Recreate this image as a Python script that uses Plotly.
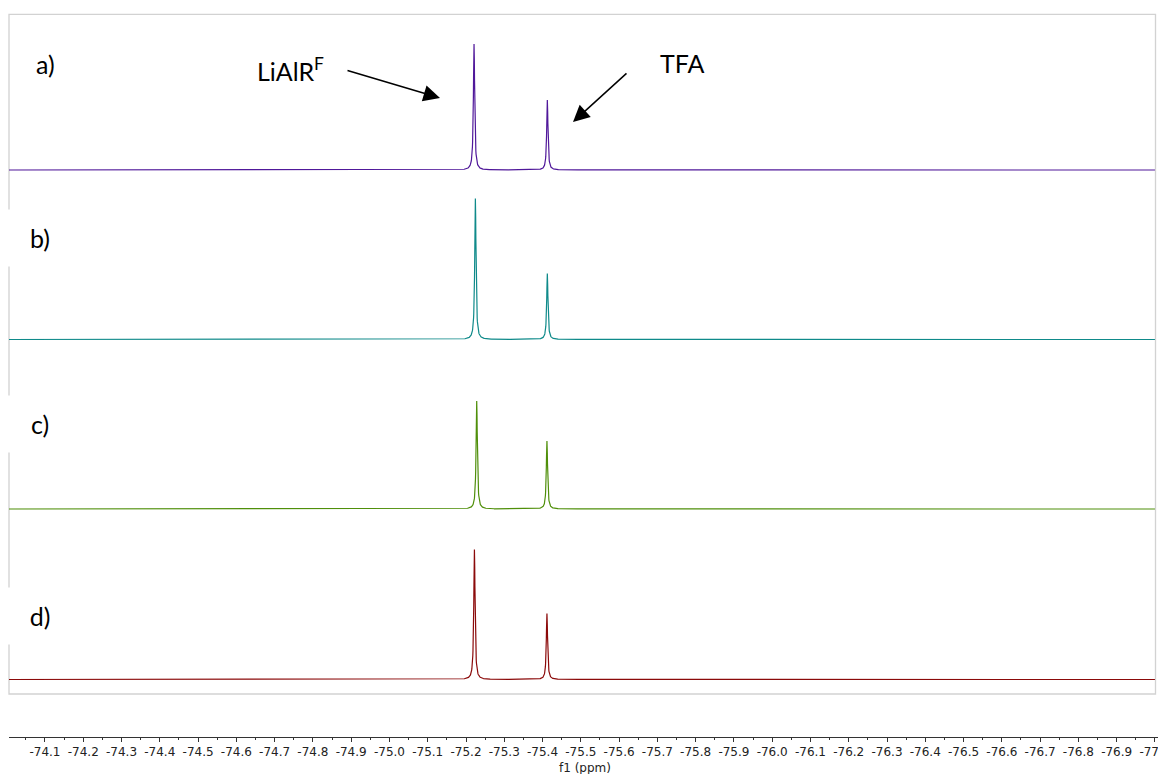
import numpy as np
import plotly.graph_objects as go

# 19F NMR spectra, four samples, two signals each (LiAlR^F and TFA)
sample_labels = ["a)", "b)", "c)", "d)"]
lialrf_shift = [-75.221, -75.2245, -75.228, -75.222]   # ppm
tfa_shift = [-75.4125, -75.4125, -75.4115, -75.4115]   # ppm
lialrf_height = [126, 141, 108, 130]
tfa_height = [70, 66, 68, 66]
linewidth_ppm = 0.004
trace_colors = ["#50189a", "#0f8a8a", "#4f8f0a", "#8b0a0a"]

# axis ticks every 0.1 ppm, labelled with a plain hyphen-minus
tick_values = [round(-74.0 - 0.1 * k, 1) for k in range(1, 31)]
tick_labels = ["%.1f" % v for v in tick_values]

# figure geometry (pixels)
W, H = 1158, 774
L, R, T, B = 9, 0, 14, 37
PW, PH = W - L - R, H - T - B

X_LEFT, X_RIGHT = -74.006, -77.008


def py(p):
    """pixel row -> data y (1 unit = 1 px)"""
    return (H - B) - p


def paper_x(p):
    return (p - L) / PW


def paper_y(p):
    return ((H - B) - p) / PH


baseline_px = [170, 339.5, 509, 679.5]

grid = np.linspace(X_LEFT, -77.0, 6000)


def lorentz(x, x0, h, w):
    return h / (1 + (2 * (x - x0) / w) ** 2)


fig = go.Figure()
for i in range(4):
    x = np.union1d(grid, [lialrf_shift[i], tfa_shift[i]])[::-1]
    y = lorentz(x, lialrf_shift[i], lialrf_height[i], linewidth_ppm) + \
        lorentz(x, tfa_shift[i], tfa_height[i], linewidth_ppm)
    fig.add_trace(go.Scatter(
        x=x, y=y + py(baseline_px[i]), mode="lines",
        line=dict(color=trace_colors[i], width=1.2),
        hoverinfo="skip", showlegend=False))

# light frame around the stacked spectra
fig.add_shape(type="rect", xref="paper", yref="paper",
              x0=0, x1=paper_x(1155.5), y0=paper_y(694), y1=paper_y(14.3),
              line=dict(color="#d2d2d2", width=1.3), layer="below")

label_font = dict(family="Lato", size=25, color="black")
label_pos = [(45, 64), (40, 238), (40, 424), (40, 616)]
for i, (lx, ly) in enumerate(label_pos):
    kw = {}
    if i > 0:
        kw = dict(bgcolor="white", width=62, height=54)
    fig.add_annotation(xref="paper", yref="paper", x=paper_x(lx), y=paper_y(ly),
                       text=sample_labels[i], showarrow=False, font=label_font,
                       xanchor="center", yanchor="middle", **kw)

fig.add_annotation(xref="paper", yref="paper", x=paper_x(290), y=paper_y(70),
                   text="LiAlR<sup>F</sup>", showarrow=False, font=label_font,
                   xanchor="center", yanchor="middle")
fig.add_annotation(xref="paper", yref="paper", x=paper_x(682), y=paper_y(63),
                   text="TFA", showarrow=False, font=label_font,
                   xanchor="center", yanchor="middle")

# arrows pointing at the two signals
for tip, tail in [((440, 98), (346, 70)), ((573, 122), (628, 72))]:
    fig.add_annotation(xref="paper", yref="paper",
                       x=paper_x(tip[0]), y=paper_y(tip[1]),
                       ax=tail[0] - tip[0], ay=tail[1] - tip[1],
                       text="", showarrow=True, arrowhead=2, arrowsize=2.2,
                       arrowwidth=1.5, arrowcolor="black", standoff=0)

fig.add_annotation(xref="paper", yref="paper", x=paper_x(585), y=paper_y(768),
                   text="f1 (ppm)", showarrow=False,
                   font=dict(family="DejaVu Sans", size=12, color="#222"),
                   xanchor="center", yanchor="middle")

fig.update_layout(
    width=W, height=H,
    margin=dict(l=L, r=R, t=T, b=B, autoexpand=False),
    paper_bgcolor="white", plot_bgcolor="white",
    xaxis=dict(
        range=[X_LEFT, X_RIGHT], tickmode="array",
        tickvals=tick_values, ticktext=tick_labels, tickangle=0,
        automargin=False,
        showgrid=False, zeroline=False, showline=True, linecolor="#333",
        linewidth=1, ticks="outside", ticklen=4, tickcolor="#333",
        tickfont=dict(family="DejaVu Sans", size=12, color="#222"),
        ticklabeloverflow="allow",
        minor=dict(tickmode="linear", tick0=-74.05, dtick=0.1,
                   ticks="outside", ticklen=2, tickcolor="#333"),
    ),
    yaxis=dict(range=[0, PH], visible=False, fixedrange=True),
)

fig.write_html("out.html")
